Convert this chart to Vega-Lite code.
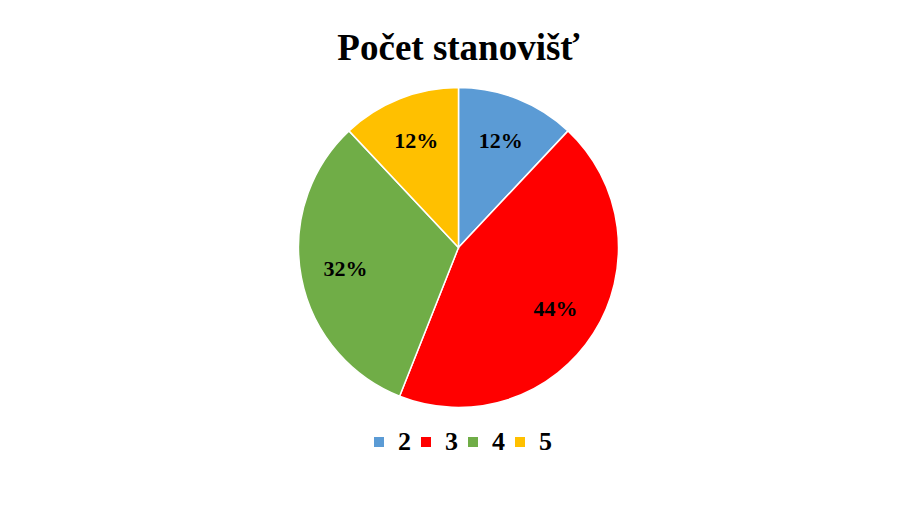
{
  "$schema": "https://vega.github.io/schema/vega-lite/v6.json",
  "width": 899,
  "height": 510,
  "autosize": {"type": "fit", "contains": "padding"},
  "padding": {"top": 30, "bottom": 55, "left": 18, "right": 0},
  "background": "white",
  "title": {
    "text": "Počet stanovišť",
    "font": "Liberation Serif",
    "fontSize": 37,
    "fontWeight": "bold",
    "color": "#000000",
    "anchor": "middle",
    "offset": 8
  },
  "data": {
    "values": [
      {"category": "2", "value": 12, "label": "12%"},
      {"category": "3", "value": 44, "label": "44%"},
      {"category": "4", "value": 32, "label": "32%"},
      {"category": "5", "value": 12, "label": "12%"}
    ]
  },
  "encoding": {
    "theta": {"field": "value", "type": "quantitative", "stack": true},
    "order": {"field": "category", "type": "ordinal"}
  },
  "layer": [
    {
      "mark": {"type": "arc", "outerRadius": 160, "stroke": "white", "strokeWidth": 1.5},
      "encoding": {
        "color": {
          "field": "category",
          "type": "nominal",
          "scale": {"domain": ["2", "3", "4", "5"], "range": ["#5b9bd5", "#ff0000", "#70ad47", "#ffc000"]},
          "legend": {
            "title": null,
            "orient": "bottom",
            "direction": "horizontal",
            "symbolType": "square",
            "symbolSize": 100,
            "symbolStrokeWidth": 0,
            "labelFont": "Liberation Serif",
            "labelFontSize": 26,
            "labelFontWeight": "bold",
            "labelColor": "#000000",
            "columnPadding": 2,
            "labelOffset": 6,
            "offset": 10
          }
        }
      }
    },
    {
      "mark": {"type": "text", "radius": 115, "font": "Liberation Serif", "fontSize": 22, "fontWeight": "bold", "color": "#000000"},
      "encoding": {"text": {"field": "label", "type": "nominal"}}
    }
  ],
  "config": {
    "view": {"stroke": null},
    "legend": {"layout": {"bottom": {"anchor": "middle"}}}
  }
}
